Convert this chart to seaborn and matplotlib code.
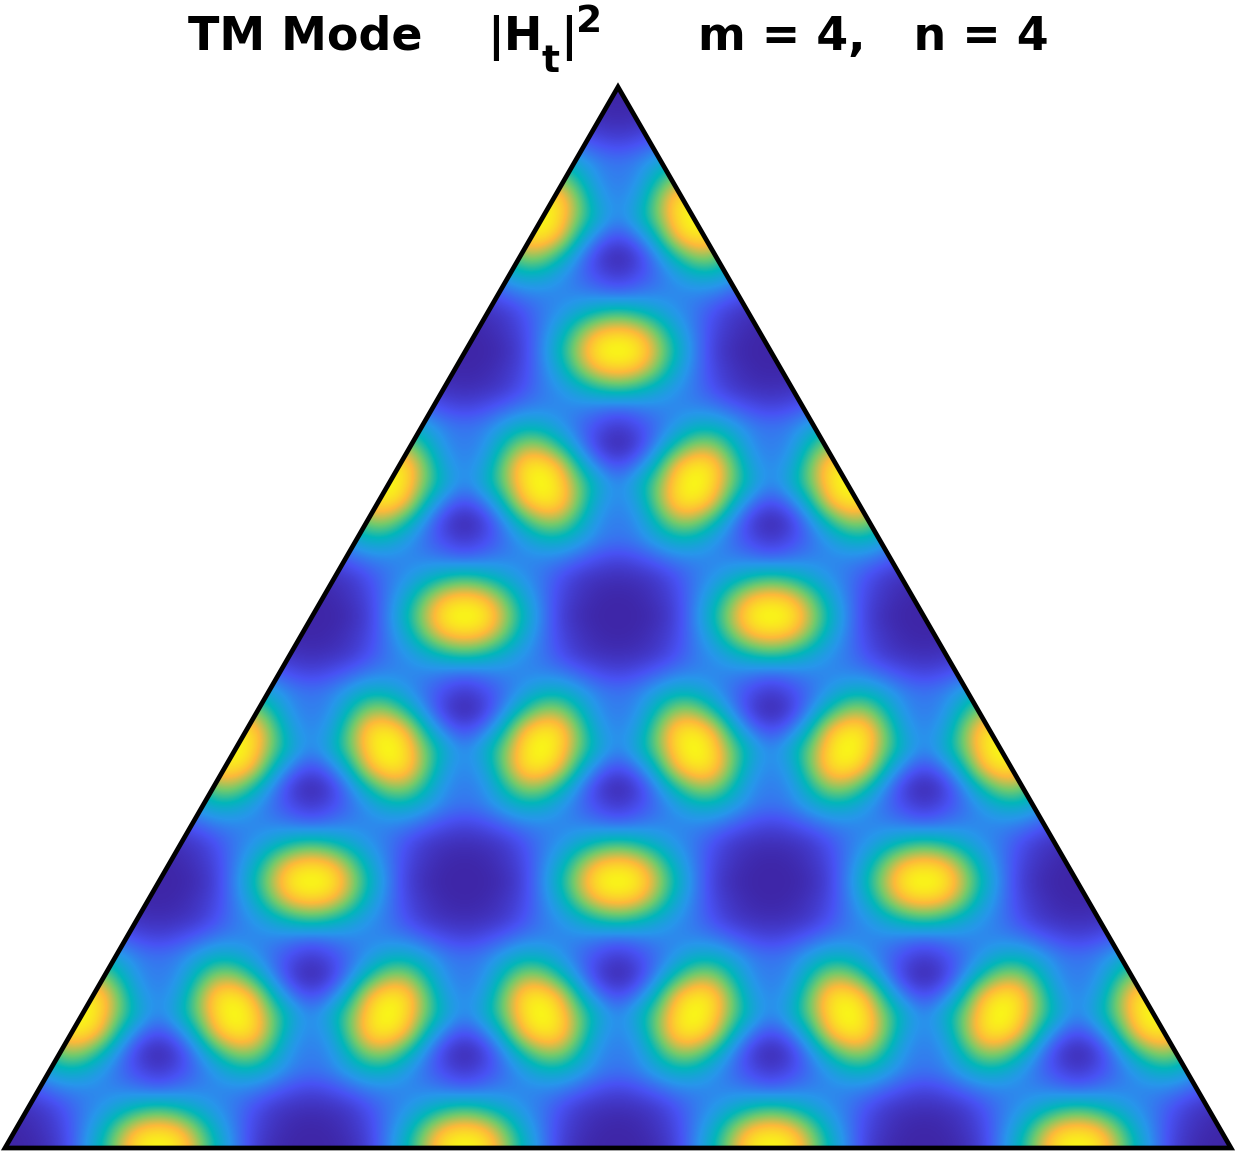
import numpy as np
import matplotlib
matplotlib.use("Agg")
import matplotlib.pyplot as plt
from matplotlib.patches import Polygon
import seaborn as sns

# |H_t|^2 read from the picture over one mirror-symmetric quarter of the pattern
# rows run downward from an oval centre, columns run rightward
quarter_cell = [
    [1.00, 0.96, 0.76, 0.50, 0.28, 0.10, 0.02, 0.00, 0.00],
    [0.88, 0.84, 0.66, 0.42, 0.26, 0.12, 0.05, 0.01, 0.00],
    [0.58, 0.52, 0.42, 0.32, 0.25, 0.15, 0.07, 0.04, 0.03],
    [0.22, 0.25, 0.28, 0.28, 0.28, 0.26, 0.20, 0.14, 0.11],
    [0.07, 0.13, 0.22, 0.33, 0.44, 0.45, 0.36, 0.27, 0.24],
    [0.00, 0.08, 0.28, 0.52, 0.70, 0.70, 0.50, 0.30, 0.26],
    [0.14, 0.24, 0.48, 0.82, 0.94, 0.90, 0.64, 0.36, 0.28],
    [0.28, 0.42, 0.64, 0.90, 1.00, 0.90, 0.64, 0.42, 0.28],
    [0.28, 0.36, 0.64, 0.90, 0.94, 0.82, 0.48, 0.24, 0.14],
    [0.26, 0.30, 0.50, 0.70, 0.70, 0.52, 0.28, 0.08, 0.00],
    [0.24, 0.27, 0.36, 0.45, 0.44, 0.33, 0.22, 0.13, 0.07],
    [0.11, 0.14, 0.20, 0.26, 0.28, 0.28, 0.28, 0.25, 0.22],
    [0.03, 0.04, 0.07, 0.15, 0.25, 0.32, 0.42, 0.52, 0.58],
    [0.00, 0.01, 0.05, 0.12, 0.26, 0.42, 0.66, 0.84, 0.88],
    [0.00, 0.00, 0.02, 0.10, 0.28, 0.50, 0.76, 0.96, 1.00],
]
colour_stops = ["#3e26a8", "#4852f4", "#2796eb", "#02b6ba", "#72ca6c", "#fdb93a", "#f9fb15"]
title_main = "TM Mode"
title_field = "|H"
title_sub = "t"
title_bar = "|"
title_sup = "2"
title_modes = "m = 4,   n = 4"

sns.set_theme(style="white")
cmap = sns.blend_palette(colour_stops, as_cmap=True)

fig = plt.figure(figsize=(12.36, 11.53), dpi=100)
ax = fig.add_axes([0, 0, 1, 1])
ax.set_xlim(0, 1236)
ax.set_ylim(1153, 0)
ax.axis("off")

apex, left, right = (618, 87), (5, 1148), (1231, 1148)
x0, y0 = 618.0, 351.0
dx, dy = 153.25 / 8, 265.3 / 14
pad_x, pad_y = 36, 16
field = np.pad(np.array(quarter_cell), ((pad_y, 2 * 16 + 14), (pad_x, pad_x)), mode="reflect")
n_rows, n_cols = field.shape
x_first = x0 - pad_x * dx
y_first = y0 - pad_y * dy
im = ax.imshow(field, cmap=cmap, vmin=0, vmax=0.97, interpolation="bicubic", aspect="auto",
               extent=[x_first - dx / 2, x_first + (n_cols - 0.5) * dx,
                       y_first + (n_rows - 0.5) * dy, y_first - dy / 2])
ax.set_xlim(0, 1236)
ax.set_ylim(1153, 0)
tri = Polygon([apex, left, right], closed=True, transform=ax.transData, fc="none", ec="none")
ax.add_patch(tri)
im.set_clip_path(tri)
ax.add_patch(Polygon([apex, left, right], closed=True, fc="none", ec="black", lw=3.4, joinstyle="miter"))

style = dict(ha="left", va="baseline", fontweight="bold", family="DejaVu Sans", color="black")
ax.text(187.5, 50, title_main, fontsize=33, **style)
ax.text(487, 50, title_field, fontsize=33, **style)
ax.text(541, 72, title_sub, fontsize=27, **style)
ax.text(560, 50, title_bar, fontsize=33, **style)
ax.text(576, 32, title_sup, fontsize=27, **style)
ax.text(698, 50, title_modes, fontsize=33, **style)
fig.savefig("out.png", dpi=100)
